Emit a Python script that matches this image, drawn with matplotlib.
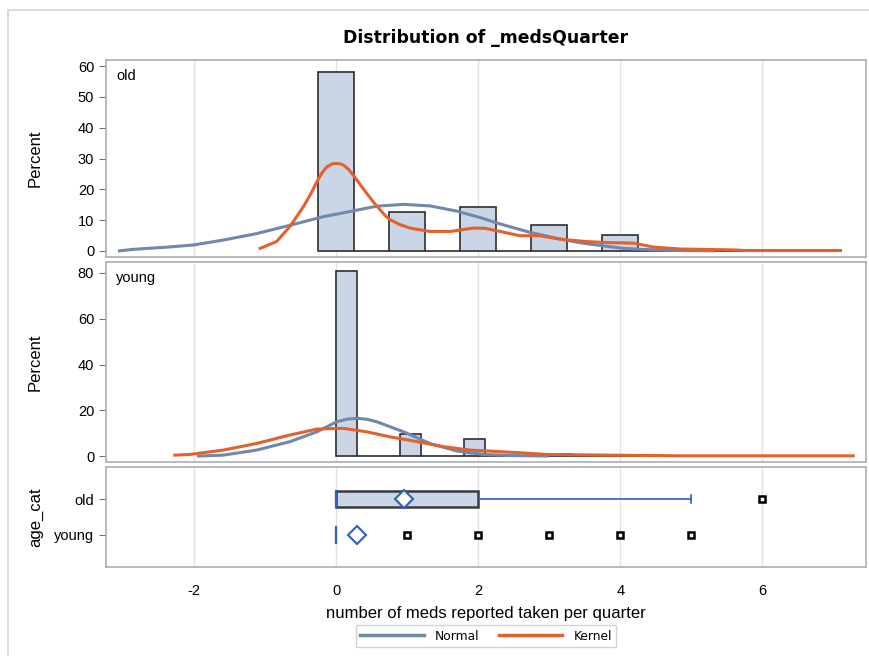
import numpy as np
import matplotlib
matplotlib.use("Agg")
import matplotlib.pyplot as plt
from matplotlib.lines import Line2D
from matplotlib.patches import Rectangle

plt.rcParams['font.family'] = ['Liberation Sans', 'DejaVu Sans']
plt.rcParams['axes.unicode_minus'] = False

# histogram percents, one value per bin
old_bin_w = 0.5
old_pct = [58.0, 0, 12.5, 0, 14.3, 0, 8.5, 0, 5.3, 0, 0.7, 0, 0.4]
young_bin_w = 0.3
young_pct = [81.0, 0, 0, 9.5, 0, 0, 7.3, 0, 0, 0, 0.8, 0, 0, 0.4, 0, 0, 0.2]

# fitted curves
old_norm_x = [-3.05, -2.85, -2.38, -2.01, -1.59, -1.12, -0.65, -0.18, 0.2, 0.57, 0.95,
              1.32, 1.7, 2.03, 2.3, 2.73, 3.1, 3.44, 4.04, 4.5, 4.85, 5.3]
old_norm_y = [0, 0.5, 1.2, 1.9, 3.5, 5.6, 8.3, 11.1, 12.8, 14.5, 15.1,
              14.6, 12.9, 10.8, 8.8, 6.0, 4.1, 2.6, 0.8, 0.3, 0.1, 0]
old_kern_x = [-1.07, -0.84, -0.65, -0.46, -0.35, -0.27, -0.2, -0.13, -0.06, -0.01, 0.05,
              0.1, 0.17, 0.24, 0.33, 0.43, 0.52, 0.62, 0.69,
              0.76, 0.9, 1.04, 1.32, 1.61, 1.93, 2.1, 2.31, 2.59, 2.87, 3.15, 3.53, 3.81,
              4.19, 4.47, 4.85, 5.6, 5.78, 7.1]
old_kern_y = [0.8, 3.0, 7.9, 14.4, 18.8, 22.5, 25.3, 27.3, 28.2, 28.4, 28.3,
              27.9, 26.6, 24.6, 21.8, 18.7, 16.0, 13.3, 11.5,
              10.1, 8.5, 7.4, 6.3, 6.3, 7.4, 7.3, 6.3, 4.9, 4.9, 3.8, 3.0, 2.7,
              2.5, 1.2, 0.6, 0.3, 0.1, 0.1]
young_norm_x = [-1.94, -1.59, -1.12, -0.65, -0.27, 0.01, 0.15, 0.29, 0.43, 0.57, 0.95, 1.32, 1.7,
                2.07, 2.5, 2.97]
young_norm_y = [0, 0.4, 2.6, 6.3, 10.6, 15.0, 16.1, 16.5, 16.1, 15.0, 10.6, 5.5, 2.2,
                0.7, 0.2, 0]
young_kern_x = [-2.27, -2.06, -1.59, -1.12, -0.65, -0.27, 0.1, 0.43, 0.76, 1.14, 1.51,
                1.89, 2.2, 2.5, 2.97, 3.81, 4.85, 7.28]
young_kern_y = [0.4, 0.7, 2.6, 5.5, 9.2, 11.8, 12.1, 10.6, 8.4, 6.3, 4.1,
                2.6, 2.1, 1.6, 0.7, 0.4, 0.1, 0.1]

# box plot summary
groups = ['old', 'young']
q1 = [0, 0]
med = [0, 0]
q3 = [2, 0]
whisk_hi = [5, 0]
means = [0.95, 0.3]
outliers = [[6], [1, 2, 3, 4, 5]]

bar_fc = '#cad5e5'
edge = '#2e2e2e'
c_norm = '#7088ad'
c_kern = '#e2612c'
c_box = '#2f5fbf'
frame_c = '#a9afb6'
grid_c = '#e3e3e3'

fig = plt.figure(figsize=(8.7, 6.56), dpi=100)
fig.patches.append(Rectangle((8 / 870, -0.01), 1.0, 1 - 10 / 656 + 0.01, transform=fig.transFigure,
                             fill=False, ec='#d4d4d4', lw=1.2))

L, W = 106 / 870, 760 / 870
ax1 = fig.add_axes([L, (656 - 257) / 656, W, 197 / 656])
ax2 = fig.add_axes([L, (656 - 462) / 656, W, 200 / 656])
ax3 = fig.add_axes([L, (656 - 567) / 656, W, 100 / 656])

xlim = (-3.24, 7.46)
for ax in (ax1, ax2, ax3):
    ax.set_xlim(*xlim)
    ax.set_xticks([-2, 0, 2, 4, 6])
    ax.grid(axis='x', color=grid_c, lw=1)
    ax.set_axisbelow(True)
    for s in ax.spines.values():
        s.set_color(frame_c)
        s.set_linewidth(1.2)
    ax.tick_params(axis='y', colors='#777777', labelcolor='black', labelsize=10.5, length=5)
    ax.tick_params(axis='x', length=0)

# histograms
oc = np.arange(len(old_pct)) * old_bin_w
ax1.bar(oc, old_pct, width=old_bin_w, color=bar_fc, edgecolor=edge, lw=1.2, zorder=2)
ax1.plot(old_norm_x, old_norm_y, color=c_norm, lw=2.2, zorder=3)
ax1.plot(old_kern_x, old_kern_y, color=c_kern, lw=2.2, zorder=4)
ax1.set_ylim(-2, 62)
ax1.set_yticks(range(0, 61, 10))
ax1.set_xticklabels([])
ax1.set_ylabel('Percent', fontsize=12)
ax1.text(0.013, 0.955, 'old', transform=ax1.transAxes, ha='left', va='top', fontsize=10.5)

yc = np.arange(len(young_pct)) * young_bin_w + young_bin_w / 2
ax2.bar(yc, young_pct, width=young_bin_w, color=bar_fc, edgecolor=edge, lw=1.2, zorder=2)
ax2.plot(young_norm_x, young_norm_y, color=c_norm, lw=2.2, zorder=3)
ax2.plot(young_kern_x, young_kern_y, color=c_kern, lw=2.2, zorder=4)
ax2.set_ylim(-2.6, 84.8)
ax2.set_yticks(range(0, 81, 20))
ax2.set_xticklabels([])
ax2.set_ylabel('Percent', fontsize=12)
ax2.text(0.013, 0.955, 'young', transform=ax2.transAxes, ha='left', va='top', fontsize=10.5)

# box plots
bh = 0.43
for i, g in enumerate(groups):
    if q3[i] > q1[i]:
        ax3.add_patch(Rectangle((q1[i], i - bh / 2), q3[i] - q1[i], bh,
                                fc=bar_fc, ec='#3a3a3a', lw=1.8, zorder=2))
        ax3.plot([q3[i], whisk_hi[i]], [i, i], color=c_box, lw=1.2, zorder=2)
        ax3.plot([whisk_hi[i], whisk_hi[i]], [i - 0.1, i + 0.1], color=c_box, lw=1.2, zorder=2)
    ax3.plot([med[i], med[i]], [i - bh / 2, i + bh / 2], color=c_box, lw=1.6, zorder=3)
    ax3.plot(means[i], i, marker='D', ms=9, mfc='white', mec=c_box, mew=1.5, zorder=4)
    ax3.plot(outliers[i], [i] * len(outliers[i]), ls='none', marker='s', ms=5,
             mfc='white', mec='black', mew=1.8, zorder=4)
ax3.set_ylim(1.89, -0.89)
ax3.set_yticks(range(len(groups)))
ax3.set_yticklabels(groups)
ax3.set_ylabel('age_cat', fontsize=12)
ax3.tick_params(axis='x', labelsize=10.5, pad=12)
ax3.set_xlabel('number of meds reported taken per quarter', fontsize=12, labelpad=6)

for ax in (ax1, ax2, ax3):
    ax.yaxis.set_label_coords(-0.083, 0.5)

fig.text(486 / 870, 1 - 38 / 656, 'Distribution of _medsQuarter', ha='center', va='center',
         fontsize=12.4, fontweight='bold', family='DejaVu Sans')

handles = [Line2D([], [], color=c_norm, lw=2.5), Line2D([], [], color=c_kern, lw=2.5)]
leg = fig.legend(handles, ['Normal', 'Kernel'], loc='center', bbox_to_anchor=(486 / 870, 1 - 636 / 656),
                 ncol=2, frameon=True, fancybox=False, handlelength=5.2,
                 columnspacing=1.6, borderpad=0.35, handletextpad=0.9,
                 prop={'family': 'DejaVu Sans', 'size': 8.8})
leg.get_frame().set_edgecolor('#c8c8c8')
leg.get_frame().set_linewidth(1)

fig.savefig('out.png', dpi=100)
